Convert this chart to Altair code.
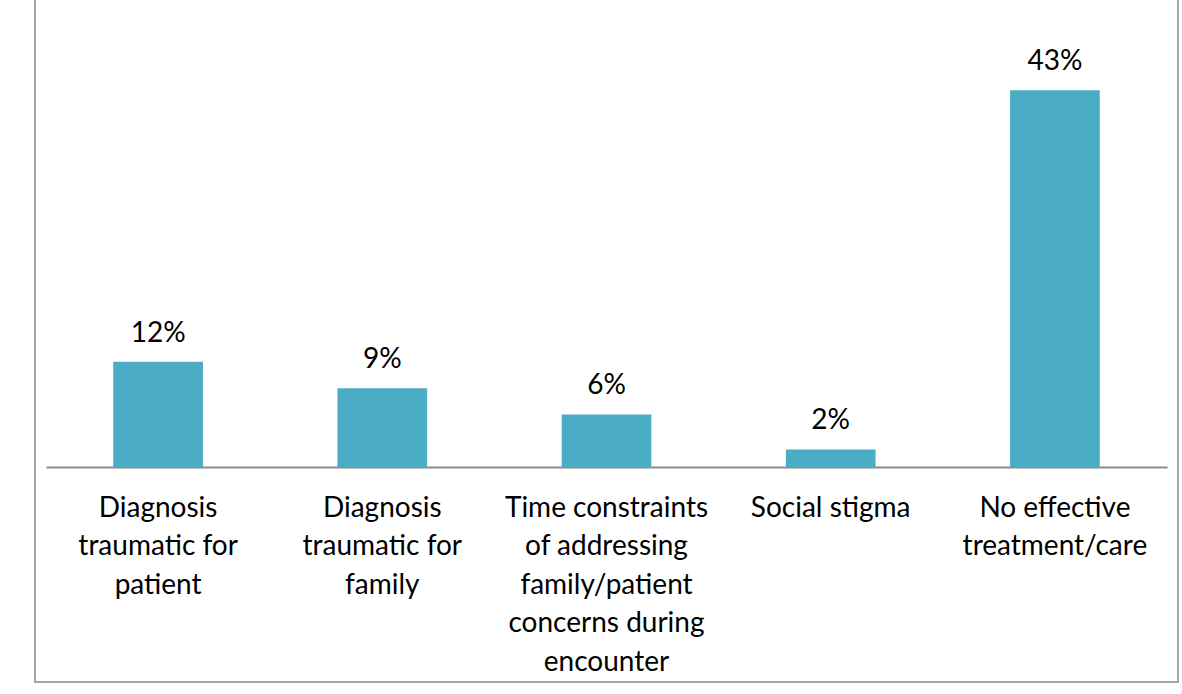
import altair as alt
import pandas as pd

categories = [
    "Diagnosis\ntraumatic for\npatient",
    "Diagnosis\ntraumatic for\nfamily",
    "Time constraints\nof addressing\nfamily/patient\nconcerns during\nencounter",
    "Social stigma",
    "No effective\ntreatment/care",
]
values = [12, 9, 6, 2, 43]
labels = ["12%", "9%", "6%", "2%", "43%"]

df = pd.DataFrame({"cat": categories, "val": values, "lab": labels})

FONT = "Lato"
FS = 28
BAR = "#4BACC6"

x = alt.X(
    "cat:N",
    sort=categories,
    scale=alt.Scale(paddingInner=0.6, paddingOuter=0.3),
    axis=alt.Axis(
        title=None,
        labelAngle=0,
        labelExpr="split(datum.label, '\\n')",
        labelFont=FONT,
        labelFontSize=FS,
        labelColor="#000000",
        labelLineHeight=38.5,
        labelPadding=27,
        labelBaseline="top",
        labelLimit=400,
        ticks=False,
        domainColor="#8C8C8C",
        domainWidth=2,
        grid=False,
    ),
)
y = alt.Y("val:Q", scale=alt.Scale(domain=[0, 53.3], nice=False), axis=None)

base = alt.Chart(df)
bars = base.mark_bar(color=BAR).encode(x=x, y=y)
text = base.mark_text(font=FONT, fontSize=FS, baseline="bottom", dy=-14, color="#000000").encode(
    x=alt.X("cat:N", sort=categories), y="val:Q", text="lab:N"
)

border_df = pd.DataFrame({"k": [0]})
bcol = "#A6A6A6"
left = alt.Chart(border_df).mark_rule(color=bcol, strokeWidth=2).encode(
    x=alt.value(-11), y=alt.value(-5), y2=alt.value(683)
)
right = alt.Chart(border_df).mark_rule(color=bcol, strokeWidth=2).encode(
    x=alt.value(1132), y=alt.value(-5), y2=alt.value(683)
)
bottom = alt.Chart(border_df).mark_rule(color=bcol, strokeWidth=2).encode(
    x=alt.value(-12), x2=alt.value(1133), y=alt.value(682)
)

chart = (
    alt.layer(bars, text, left, right, bottom)
    .properties(
        width=1121,
        height=467,
        padding={"left": 46, "top": 0, "right": 15, "bottom": 227},
        autosize=alt.AutoSizeParams(type="none"),
        background="#FFFFFF",
    )
    .configure_view(stroke=None)
)

chart.save("out.html", embed_options={"renderer": "svg", "actions": False})
